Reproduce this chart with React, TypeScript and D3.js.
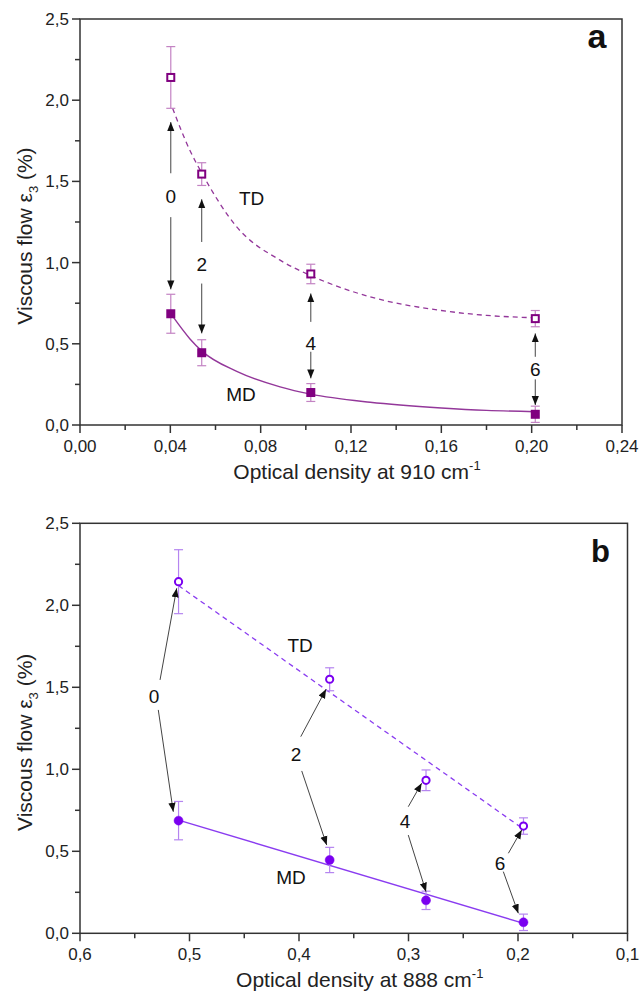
import * as d3 from "d3";

// panel a: optical density at 910 cm-1
const densA = [0.0402, 0.0539, 0.1022, 0.2016];
const tdA = [2.14, 1.545, 0.93, 0.655];
const tdErrA = [0.19, 0.07, 0.06, 0.05];
const mdA = [0.685, 0.445, 0.2, 0.066];
const mdErrA = [0.12, 0.08, 0.055, 0.05];
// fitted exponential curves
const fitXA = [0.041, 0.0487, 0.054, 0.0694, 0.0886, 0.1022, 0.1285, 0.16, 0.18, 0.2016];
const tdFitA = [1.95, 1.69, 1.55, 1.22, 1.015, 0.92, 0.789, 0.705, 0.675, 0.66];
const mdFitA = [0.67, 0.53, 0.455, 0.33, 0.235, 0.19, 0.14, 0.105, 0.09, 0.082];
const ticksXA = [0, 0.04, 0.08, 0.12, 0.16, 0.2, 0.24];

// panel b: optical density at 888 cm-1
const densB = [0.51, 0.372, 0.284, 0.195];
const tdB = [2.144, 1.549, 0.933, 0.654];
const tdErrB = [0.195, 0.07, 0.063, 0.05];
const mdB = [0.687, 0.447, 0.201, 0.067];
const mdErrB = [0.117, 0.077, 0.056, 0.05];
const fitXB = [0.51, 0.197];
const tdFitB = [2.12, 0.645];
const mdFitB = [0.69, 0.065];
const ticksXB = [0.6, 0.5, 0.4, 0.3, 0.2, 0.1];

const ticksY = [0, 0.5, 1, 1.5, 2, 2.5];

// arrow annotations: label, label pos, then [x1,y1,x2,y2] segments in data units
type Note = { t: string; x: number; y: number; arrows: number[][] };
const notesA: Note[] = [
  { t: "0", x: 0.0402, y: 1.408, arrows: [[0.0402, 1.55, 0.0402, 1.865], [0.0402, 1.28, 0.0402, 0.835]] },
  { t: "2", x: 0.0539, y: 0.99, arrows: [[0.0539, 1.127, 0.0539, 1.39], [0.0539, 0.871, 0.0539, 0.564]] },
  { t: "4", x: 0.1022, y: 0.504, arrows: [[0.1022, 0.635, 0.1022, 0.81], [0.1022, 0.451, 0.1022, 0.287]] },
  { t: "6", x: 0.2016, y: 0.344, arrows: [[0.2016, 0.42, 0.2016, 0.564], [0.2016, 0.281, 0.2016, 0.123]] },
];
const notesB: Note[] = [
  { t: "0", x: 0.5324, y: 1.447, arrows: [[0.5269, 1.545, 0.5117, 2.104], [0.5285, 1.362, 0.5148, 0.741]] },
  { t: "2", x: 0.4027, y: 1.093, arrows: [[0.3984, 1.199, 0.3753, 1.488], [0.3975, 0.99, 0.3747, 0.538]] },
  { t: "4", x: 0.3032, y: 0.685, arrows: [[0.3002, 0.772, 0.288, 0.915], [0.3002, 0.599, 0.284, 0.254]] },
  { t: "6", x: 0.2164, y: 0.43, arrows: [[0.2088, 0.488, 0.1966, 0.63], [0.2134, 0.376, 0.1997, 0.122]] },
];

const FONT = "'Liberation Sans', Arial, sans-serif";
const AX = "#333";

type PanelProps = {
  id: string;
  letter: string;
  letterSize: number;
  letterDy: number;
  letterDx: number;
  top: number;
  bottom: number;
  left: number;
  right: number;
  xDomain: [number, number];
  xTicks: number[];
  xFmt: (v: number) => string;
  xMinor: number[];
  xTitle: string;
  dens: number[];
  td: number[];
  tdErr: number[];
  md: number[];
  mdErr: number[];
  fitX: number[];
  tdFit: number[];
  mdFit: number[];
  curved: boolean;
  notes: Note[];
  tdLabel: [number, number];
  mdLabel: [number, number];
  color: string;
  errColor: string;
  lineColor: string;
  square: boolean;
};

function Panel(p: PanelProps) {
  const x = d3.scaleLinear().domain(p.xDomain).range([p.left, p.right]);
  const y = d3.scaleLinear().domain([0, 2.5]).range([p.bottom, p.top]);
  const line = d3
    .line<[number, number]>()
    .x(d => x(d[0]))
    .y(d => y(d[1]))
    .curve(p.curved ? d3.curveMonotoneX : d3.curveLinear);
  const minorY = d3.range(0.25, 2.5, 0.5);
  const fmtY = (v: number) => d3.format(".1f")(v).replace(".", ",");

  const marker = (cx: number, cy: number, open: boolean, k: string) =>
    p.square ? (
      <rect key={k} x={cx - 3.5} y={cy - 3.5} width={7} height={7}
        fill={open ? "#fff" : p.color} stroke={p.color} strokeWidth={2} />
    ) : (
      <circle key={k} cx={cx} cy={cy} r={open ? 3.6 : 4.5}
        fill={open ? "#fff" : p.color} stroke={p.color} strokeWidth={open ? 2 : 0.5} />
    );

  const errBar = (xv: number, yv: number, e: number, k: string) => (
    <g key={k} stroke={p.errColor} strokeWidth={1.2}>
      <line x1={x(xv)} x2={x(xv)} y1={y(yv + e)} y2={y(yv - e)} />
      <line x1={x(xv) - 4.5} x2={x(xv) + 4.5} y1={y(yv + e)} y2={y(yv + e)} />
      <line x1={x(xv) - 4.5} x2={x(xv) + 4.5} y1={y(yv - e)} y2={y(yv - e)} />
    </g>
  );

  return (
    <g fontFamily={FONT}>
      <defs>
        <marker id={`head-${p.id}`} viewBox="0 0 10 10" refX={10} refY={5}
          markerWidth={9} markerHeight={9} markerUnits="userSpaceOnUse" orient="auto">
          <path d="M0,1 L10,5 L0,9 Z" fill="#111" />
        </marker>
      </defs>

      {/* frame */}
      <rect x={p.left} y={p.top} width={p.right - p.left} height={p.bottom - p.top}
        fill="none" stroke={AX} strokeWidth={1.5} />

      {/* y axis */}
      {ticksY.map(v => (
        <g key={`y${v}`}>
          <line x1={p.left - 8} x2={p.left} y1={y(v)} y2={y(v)} stroke={AX} strokeWidth={1.5} />
          <text x={p.left - 11} y={y(v)} dy="0.35em" textAnchor="end" fontSize={17} fill="#222">
            {fmtY(v)}
          </text>
        </g>
      ))}
      {minorY.map(v => (
        <line key={`ym${v}`} x1={p.left - 5} x2={p.left} y1={y(v)} y2={y(v)} stroke={AX} strokeWidth={1.5} />
      ))}

      {/* x axis */}
      {p.xTicks.map(v => (
        <g key={`x${v}`}>
          <line x1={x(v)} x2={x(v)} y1={p.bottom} y2={p.bottom + 8} stroke={AX} strokeWidth={1.5} />
          <text x={x(v)} y={p.bottom + 27} textAnchor="middle" fontSize={17} fill="#222">
            {p.xFmt(v)}
          </text>
        </g>
      ))}
      {p.xMinor.map(v => (
        <line key={`xm${v}`} x1={x(v)} x2={x(v)} y1={p.bottom} y2={p.bottom + 5} stroke={AX} strokeWidth={1.5} />
      ))}

      {/* titles */}
      <text x={(p.left + p.right) / 2 + 6} y={p.bottom + 54} textAnchor="middle" fontSize={21} fill="#222">
        {p.xTitle} cm<tspan dy={-9} fontSize={13}>-1</tspan>
      </text>
      <text transform={`translate(32,${(p.top + p.bottom) / 2 + 14}) rotate(-90)`}
        textAnchor="middle" fontSize={21} fill="#222">
        Viscous flow ε<tspan dy={6} fontSize={13}>3</tspan>
        <tspan dy={-6}> (%)</tspan>
      </text>
      <text x={p.right - p.letterDx} y={p.top + p.letterDy} textAnchor="middle"
        fontSize={p.letterSize} fontWeight="bold" fill="#111">
        {p.letter}
      </text>

      {/* fit lines */}
      <path d={line(p.fitX.map((v, i) => [v, p.tdFit[i]]) as [number, number][]) || ""}
        fill="none" stroke={p.lineColor} strokeWidth={1.3} strokeDasharray="5,4" />
      <path d={line(p.fitX.map((v, i) => [v, p.mdFit[i]]) as [number, number][]) || ""}
        fill="none" stroke={p.lineColor} strokeWidth={1.4} />

      {/* error bars + markers */}
      {p.dens.map((d, i) => errBar(d, p.td[i], p.tdErr[i], `te${i}`))}
      {p.dens.map((d, i) => errBar(d, p.md[i], p.mdErr[i], `me${i}`))}
      {p.dens.map((d, i) => marker(x(d), y(p.td[i]), true, `tm${i}`))}
      {p.dens.map((d, i) => marker(x(d), y(p.md[i]), false, `mm${i}`))}

      {/* annotations */}
      {p.notes.map(n => (
        <g key={`n${n.t}`}>
          {n.arrows.map((a, j) => (
            <line key={j} x1={x(a[0])} y1={y(a[1])} x2={x(a[2])} y2={y(a[3])}
              stroke="#444" strokeWidth={1} markerEnd={`url(#head-${p.id})`} />
          ))}
          <text x={x(n.x)} y={y(n.y)} dy="0.36em" textAnchor="middle" fontSize={19} fill="#111">
            {n.t}
          </text>
        </g>
      ))}
      <text x={x(p.tdLabel[0])} y={y(p.tdLabel[1])} dy="0.36em" textAnchor="middle" fontSize={19} fill="#111">TD</text>
      <text x={x(p.mdLabel[0])} y={y(p.mdLabel[1])} dy="0.36em" textAnchor="middle" fontSize={19} fill="#111">MD</text>
    </g>
  );
}

export default function App() {
  return (
    <svg width={640} height={1002} style={{ position: "absolute", left: 0, top: 0, background: "#fff" }}>
      <Panel
        id="a" letter="a" letterSize={34} letterDy={29} letterDx={25}
        top={19} bottom={425} left={80} right={622}
        xDomain={[0, 0.24]} xTicks={ticksXA}
        xFmt={v => d3.format(".2f")(v).replace(".", ",")}
        xMinor={[0.02, 0.06, 0.1, 0.14, 0.18, 0.22]}
        xTitle="Optical density at 910"
        dens={densA} td={tdA} tdErr={tdErrA} md={mdA} mdErr={mdErrA}
        fitX={fitXA} tdFit={tdFitA} mdFit={mdFitA} curved
        notes={notesA} tdLabel={[0.076, 1.396]} mdLabel={[0.0713, 0.19]}
        color="#800080" errColor="#c383c3" lineColor="#93379a" square
      />
      <Panel
        id="b" letter="b" letterSize={31} letterDy={39} letterDx={27}
        top={523.3} bottom={933.3} left={80} right={627.5}
        xDomain={[0.6, 0.1]} xTicks={ticksXB}
        xFmt={v => d3.format(".1f")(v).replace(".", ",")}
        xMinor={[0.55, 0.45, 0.35, 0.25, 0.15]}
        xTitle="Optical density at 888"
        dens={densB} td={tdB} tdErr={tdErrB} md={mdB} mdErr={mdErrB}
        fitX={fitXB} tdFit={tdFitB} mdFit={mdFitB} curved={false}
        notes={notesB} tdLabel={[0.399, 1.758]} mdLabel={[0.4073, 0.345]}
        color="#7a00f0" errColor="#b585f0" lineColor="#8a3cf0" square={false}
      />
    </svg>
  );
}
